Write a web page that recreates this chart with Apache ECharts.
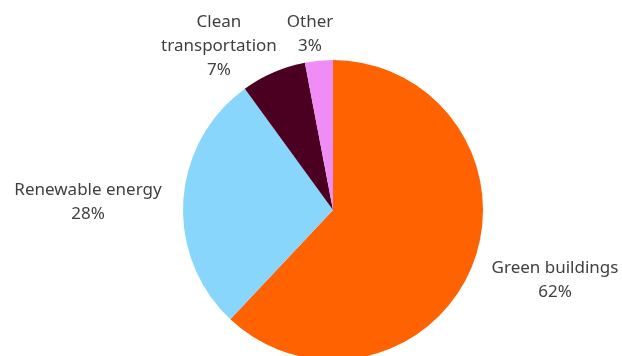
<!DOCTYPE html>
<html><head><meta charset="utf-8">
<script src="https://cdn.jsdelivr.net/npm/echarts@6/dist/echarts.min.js"></script>
<style>html,body{margin:0;padding:0;background:#fff}#c{width:622px;height:356px}</style>
</head><body><div id="c"></div>
<script>
const categories = ['Green buildings', 'Renewable energy', 'Clean transportation', 'Other'];
const values = [62, 28, 7, 3];
const colors = ['#FF6200', '#89D6FD', '#4B0021', '#F08CF5'];
const labelText = ['Green buildings', 'Renewable energy', 'Clean\ntransportation', 'Other'];
const labelPos = [[555, 280], [88, 202], [219, 46], [310, 34]];

const chart = echarts.init(document.getElementById('c'), null, {renderer: 'canvas'});
chart.setOption({
  animation: false,
  series: [{
    type: 'pie',
    center: [333, 210],
    radius: [0, 150],
    startAngle: 90,
    clockwise: true,
    data: categories.map((c, i) => ({name: c, value: values[i], itemStyle: {color: colors[i]}})),
    itemStyle: {borderWidth: 0},
    label: {
      show: true,
      position: 'outside',
      formatter: p => labelText[p.dataIndex] + '\n' + p.value + '%',
      color: '#404040',
      fontFamily: 'Noto Sans',
      fontSize: 17,
      lineHeight: 24,
      align: 'center',
      overflow: 'none',
      width: 200
    },
    labelLine: {show: false},
    labelLayout: p => ({x: labelPos[p.dataIndex][0], y: labelPos[p.dataIndex][1], align: 'center', verticalAlign: 'middle'})
  }]
});
</script></body></html>
